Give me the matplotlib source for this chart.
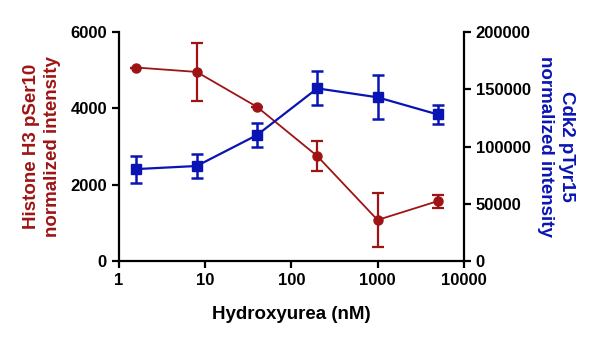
import numpy as np
import matplotlib.pyplot as plt

plt.rcParams['font.family'] = 'Liberation Sans'
plt.rcParams['font.weight'] = 'bold'

hu = [1.6, 8, 40, 200, 1000, 5000]
h3 = [5070, 4955, 4040, 2750, 1075, 1570]
h3_err = [0, 750, 0, 400, 700, 170]
cdk2 = [80300, 83000, 110000, 150800, 143000, 128000]
cdk2_err = [11800, 10300, 10300, 14800, 19300, 8200]

red = '#9E1414'
blue = '#0A14B4'

fig = plt.figure(figsize=(6, 3.41), dpi=100)
ax = fig.add_axes([0.198, 0.2346, 0.575, 0.6714])
ax2 = ax.twinx()

ax.errorbar(hu, h3, yerr=h3_err, color=red, marker='o', ms=6.5, lw=1.3,
            elinewidth=1.6, capsize=4, capthick=1.6, zorder=3)
ax2.errorbar(hu, cdk2, yerr=cdk2_err, color=blue, marker='s', ms=6.5, lw=1.6,
             elinewidth=1.8, capsize=4, capthick=1.8, zorder=3)

ax.set_xscale('log')
ax.set_xlim(1, 10000)
ax.set_xticks([1, 10, 100, 1000, 10000])
ax.set_xticklabels(['1', '10', '100', '1000', '10000'])
ax.xaxis.set_minor_locator(plt.NullLocator())
ax.set_ylim(0, 6000)
ax.set_yticks([0, 2000, 4000, 6000])
ax2.set_ylim(0, 200000)
ax2.set_yticks([0, 50000, 100000, 150000, 200000])

for a in (ax, ax2):
    a.spines['top'].set_visible(False)
    for s in a.spines.values():
        s.set_linewidth(1.6)
    a.tick_params(width=1.6, length=5, labelsize=12)
ax.spines['right'].set_visible(False)
ax2.spines['left'].set_visible(False)
ax2.spines['bottom'].set_visible(False)

ax.set_xlabel('Hydroxyurea (nM)', fontsize=13.5, fontweight='bold', labelpad=13)
ax.set_ylabel('Histone H3 pSer10\nnormalized intensity', fontsize=13.5,
              fontweight='bold', color=red, labelpad=6.5, linespacing=1.3)
ax2.set_ylabel('Cdk2 pTyr15\nnormalized intensity', fontsize=13.5,
               fontweight='bold', color=blue, rotation=270, labelpad=32,
               linespacing=1.3)

fig.savefig('out.png', dpi=100)
